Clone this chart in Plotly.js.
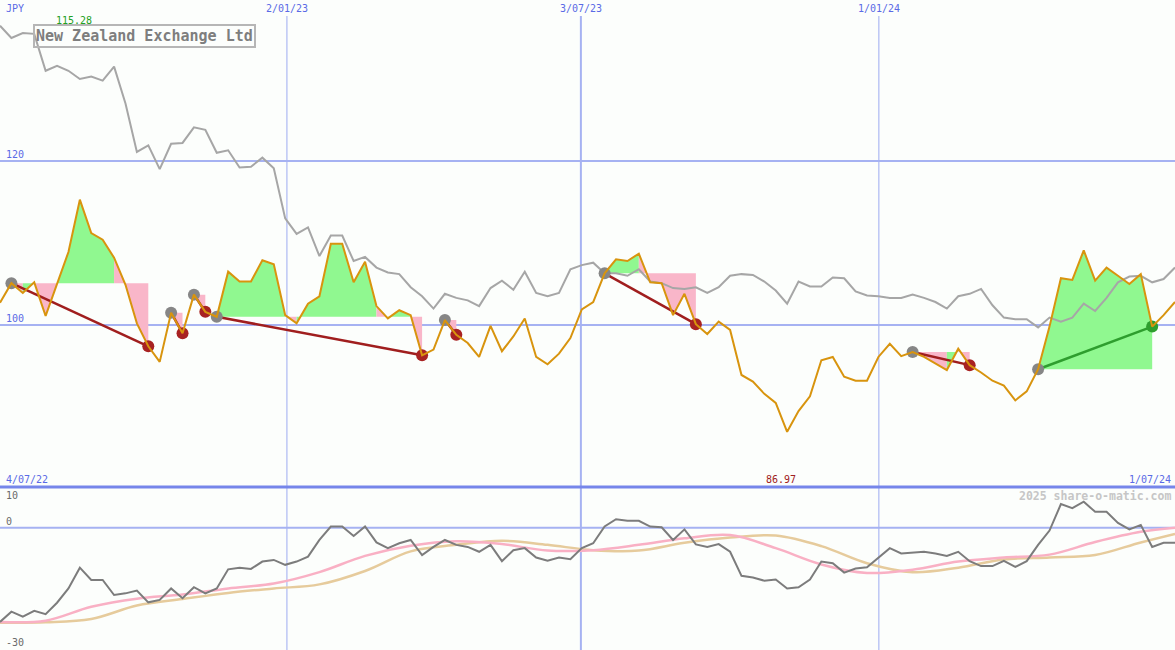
<!DOCTYPE html>
<html><head><meta charset="utf-8">
<script src="https://cdn.plot.ly/plotly-3.0.1.min.js"></script>
<style>html,body{margin:0;padding:0;background:#fcfefc;} #chart{width:1175px;height:650px;}</style>
</head><body><div id="chart"></div>
<script>
// ---- data (weekly, index 0 = 4/07/22) ----
const title = 'New Zealand Exchange Ltd';
const currency = 'JPY';
const price = [102.7,105.1,103.9,105.2,101.1,105.0,108.9,115.28,111.2,110.4,
108.2,104.9,100.2,97.4,95.5,101.5,99.0,103.7,101.6,101.0,
106.5,105.3,105.3,107.9,107.4,101.2,100.2,102.6,103.5,109.9,
109.9,105.2,107.7,102.3,100.8,101.8,101.2,96.3,97.0,100.6,
98.8,97.8,96.1,99.9,96.8,98.6,100.8,96.1,95.2,96.5,
98.4,101.9,102.8,106.3,108.0,107.8,108.7,105.2,105.1,101.2,
103.8,100.1,98.9,100.4,99.4,93.9,93.1,91.6,90.5,86.97,
89.5,91.3,95.7,96.1,93.7,93.2,93.2,96.1,97.7,96.2,
96.7,96.1,95.3,94.5,97.1,95.1,94.2,93.2,92.6,90.8,
91.9,94.6,99.8,105.7,105.5,109.1,105.4,107.0,106.0,105.0,
106.2,99.8,101.2,102.8];
const relative = [136.5,135.0,135.6,135.5,131.0,131.6,131.0,130.0,130.3,129.8,
131.5,127.0,121.1,121.9,119.0,122.1,122.2,124.1,123.8,121.0,
121.3,119.2,119.3,120.4,119.1,113.0,111.1,111.9,108.4,110.9,
110.9,107.8,108.3,107.0,106.4,106.2,104.6,103.5,102.0,103.8,
103.3,103.0,102.3,104.5,105.4,104.3,106.5,103.9,103.5,103.9,
106.8,107.3,107.6,106.3,106.3,106.0,106.8,105.3,105.1,104.5,
104.4,104.6,103.9,104.6,106.0,106.2,106.1,105.3,104.2,102.6,
105.3,104.7,104.7,105.8,105.7,104.1,103.6,103.5,103.3,103.3,
103.7,103.3,102.8,102.0,103.5,103.8,104.4,102.4,100.9,100.7,
100.7,99.7,100.9,100.4,100.9,102.6,101.7,103.3,105.2,105.9,
106.0,105.2,105.6,107.0];
const osc = [-23.1,-20.6,-21.8,-20.4,-21.2,-18.4,-14.9,-9.8,-12.8,-12.8,
-16.5,-16.1,-15.4,-18.3,-17.7,-14.9,-17.3,-14.6,-16.1,-14.9,
-10.2,-9.8,-10.1,-8.3,-7.9,-9.1,-8.3,-7.1,-3.0,0.3,
0.3,-2.0,0.3,-3.6,-5.0,-3.8,-3.0,-6.7,-4.7,-3.0,
-4.2,-4.7,-5.9,-4.2,-8.2,-5.5,-5.0,-7.3,-8.1,-7.3,
-7.7,-5.0,-3.8,0.3,2.1,1.7,1.7,0.3,0.1,-3.0,
-0.4,-4.1,-4.7,-4.0,-5.9,-11.8,-12.2,-13.0,-12.7,-14.9,
-14.6,-12.7,-8.3,-8.7,-11.0,-10.0,-9.7,-7.3,-5.0,-6.3,
-6.1,-5.9,-6.3,-6.9,-5.9,-8.2,-9.4,-9.4,-8.1,-9.6,
-8.2,-4.2,-0.7,5.8,4.8,6.4,3.9,3.9,1.2,-0.4,
0.7,-4.7,-3.7,-3.7];
const avgWeeks = [0,4,8,12,16,20,24,28,32,36,40,44,48,52,56,60,64,68,72,76,80,84,88,92,96,100,103];
const oscFast = [-23.1,-22.8,-19.4,-17.4,-16.4,-14.9,-13.7,-10.9,-6.9,-4.4,-3.3,-4.0,-5.6,-5.5,-4.2,-2.6,-1.8,-5.0,-9.0,-11.1,-10.3,-8.3,-7.3,-6.6,-3.5,-1.0,0.0];
const oscSlow = [-23.3,-23.2,-22.4,-19.1,-17.5,-16.0,-14.9,-13.9,-10.6,-5.8,-4.2,-3.2,-4.2,-5.5,-5.6,-3.7,-2.4,-1.9,-4.5,-8.7,-10.9,-9.8,-7.8,-7.3,-6.7,-3.6,-1.5];
const entries = [1,15,17,19,39,53,80,91];
const exits   = [13,16,18,37,40,61,85,101];
const dateTickPos  = [25.15,50.92,77.04];
const dateTickText = ['2/01/23','3/07/23','1/01/24'];
const startLabel = '4/07/22', endLabel = '1/07/24';
const mainTicks = [120,100];
const oscLabels = ['10','0','-30'];
const credit = '2025 share-o-matic.com';

// ---- styles ----
const W = 1175, H = 650;
const splitY = 163/H;           // lower panel height fraction
const MONO = 'DejaVu Sans Mono, monospace';
const BLUE = '#5a6ae6', GRID = '#a6b2f2';
const GREEN_FILL = '#90f890', PINK_FILL = '#f9b6c9';
const weeks = price.map((_, i) => i);
const px = v => v / W, py = v => 1 - v / H;

const traces = [];
// fills between price and entry level for each trade
entries.forEach((e, t) => {
  const ex = exits[t], base = price[e];
  let k = e;
  while (k < ex) {
    const up = price[k + 1] >= base;
    let j = k;
    while (j < ex && (price[j + 1] >= base) === up) j++;
    const xs = [k], ys = [base];
    for (let m = k; m <= j; m++) { xs.push(m); ys.push(price[m]); }
    xs.push(j); ys.push(base);
    traces.push({x: xs, y: ys, xaxis: 'x', yaxis: 'y', type: 'scatter', mode: 'lines',
      fill: 'toself', fillcolor: up ? GREEN_FILL : PINK_FILL, line: {width: 0},
      hoverinfo: 'skip', showlegend: false});
    k = j;
  }
});
// relative (gray) line
traces.push({x: weeks, y: relative, xaxis: 'x', yaxis: 'y', type: 'scatter', mode: 'lines',
  line: {color: '#a6a6a6', width: 2}, hoverinfo: 'skip'});
// trade lines
entries.forEach((e, t) => {
  const ex = exits[t], win = price[ex] > price[e];
  traces.push({x: [e, ex], y: [price[e], price[ex]], xaxis: 'x', yaxis: 'y', type: 'scatter',
    mode: 'lines', line: {color: win ? '#2e9e2e' : '#a01e1e', width: 2.5}, hoverinfo: 'skip'});
});
// markers
traces.push({x: entries, y: entries.map(i => price[i]), xaxis: 'x', yaxis: 'y', type: 'scatter',
  mode: 'markers', marker: {size: 12, color: '#868686'}, hoverinfo: 'skip'});
traces.push({x: exits, y: exits.map(i => price[i]), xaxis: 'x', yaxis: 'y', type: 'scatter',
  mode: 'markers', marker: {size: 12, color: exits.map((x, t) => price[x] > price[entries[t]] ? '#2e9e2e' : '#a82222')},
  hoverinfo: 'skip'});
// price line
traces.push({x: weeks, y: price, xaxis: 'x', yaxis: 'y', type: 'scatter', mode: 'lines',
  line: {color: '#d8940e', width: 2}, hoverinfo: 'skip'});
// lower panel
traces.push({x: avgWeeks, y: oscSlow, xaxis: 'x2', yaxis: 'y2', type: 'scatter', mode: 'lines',
  line: {color: '#e6cb9c', width: 2.5, shape: 'spline'}, hoverinfo: 'skip'});
traces.push({x: avgWeeks, y: oscFast, xaxis: 'x2', yaxis: 'y2', type: 'scatter', mode: 'lines',
  line: {color: '#f9b0c4', width: 2.5, shape: 'spline'}, hoverinfo: 'skip'});
traces.push({x: weeks, y: osc, xaxis: 'x2', yaxis: 'y2', type: 'scatter', mode: 'lines',
  line: {color: '#7c7c7c', width: 2}, hoverinfo: 'skip'});

const shapes = [];
mainTicks.forEach(v => shapes.push({type: 'line', layer: 'below', xref: 'paper', x0: 0, x1: 1,
  yref: 'y', y0: v, y1: v, line: {color: GRID, width: 2}}));
shapes.push({type: 'line', layer: 'below', xref: 'paper', x0: 0, x1: 1, yref: 'y2', y0: 0, y1: 0,
  line: {color: GRID, width: 2}});
dateTickPos.forEach((p, i) => shapes.push({type: 'line', layer: 'below', xref: 'x', x0: p, x1: p,
  yref: 'paper', y0: 0, y1: py(16), line: {color: GRID, width: i === 1 ? 2 : 1.1}}));
shapes.push({type: 'line', layer: 'above', xref: 'paper', x0: 0, x1: 1, yref: 'paper', y0: splitY, y1: splitY,
  line: {color: '#7686ea', width: 3}});

const ann = [];
const A = (o) => ann.push(Object.assign({showarrow: false, font: {family: MONO, size: 10, color: BLUE}}, o));
A({text: currency, xref: 'paper', x: px(4), xanchor: 'left', yref: 'paper', y: py(8), yanchor: 'middle'});
const iMax = price.indexOf(Math.max(...price)), iMin = price.indexOf(Math.min(...price));
A({text: Math.max(...price).toFixed(2), xref: 'x', x: iMax, xshift: -6, xanchor: 'center', yref: 'paper', y: py(21), yanchor: 'middle',
  font: {family: MONO, size: 10, color: '#22a022'}});
A({text: Math.min(...price).toFixed(2), xref: 'x', x: iMin, xshift: -6, xanchor: 'center', yref: 'paper', y: py(479), yanchor: 'middle',
  font: {family: MONO, size: 10, color: '#a02020'}});
mainTicks.forEach(v => A({text: String(v), xref: 'paper', x: px(4), xanchor: 'left', yref: 'y', y: v, yanchor: 'bottom', yshift: -1}));
dateTickPos.forEach((p, i) => A({text: dateTickText[i], xref: 'x', x: p, xanchor: 'center', yref: 'paper', y: py(8), yanchor: 'middle'}));
A({text: startLabel, xref: 'paper', x: px(4), xanchor: 'left', yref: 'paper', y: py(479), yanchor: 'middle'});
A({text: endLabel, xref: 'paper', x: px(1173), xanchor: 'right', yref: 'paper', y: py(479), yanchor: 'middle'});
A({text: '<b>' + credit + '</b>', xref: 'paper', x: px(1173), xanchor: 'right', yref: 'paper', y: py(496), yanchor: 'middle',
  font: {family: MONO, size: 11.5, color: '#c6c6c6'}});
[495, 521, 642].forEach((y, i) => A({text: oscLabels[i], xref: 'paper', x: px(4), xanchor: 'left', yref: 'paper', y: py(y), yanchor: 'middle',
  font: {family: MONO, size: 10, color: '#6a6a6a'}}));
A({text: '<b>' + title + '</b>', xref: 'paper', x: px(33), xanchor: 'left', yref: 'paper', y: py(36.5), yanchor: 'middle',
  bordercolor: '#b6b6b6', borderwidth: 2, borderpad: 1, font: {family: MONO, size: 15, color: '#7e7e7e'}});

const layout = {
  width: W, height: H, margin: {l: 0, r: 0, t: 0, b: 0},
  paper_bgcolor: '#fcfefc', plot_bgcolor: '#fcfefc', showlegend: false,
  xaxis: {range: [0, 103], domain: [0, 1], anchor: 'y', visible: false, fixedrange: true},
  yaxis: {range: [80.24, 139.63], domain: [splitY, 1], anchor: 'x', visible: false, fixedrange: true},
  xaxis2: {range: [0, 103], domain: [0, 1], anchor: 'y2', visible: false, fixedrange: true},
  yaxis2: {range: [-30, 10], domain: [0, splitY], anchor: 'x2', visible: false, fixedrange: true},
  shapes: shapes, annotations: ann
};
Plotly.newPlot('chart', traces, layout, {displayModeBar: false, staticPlot: true});
</script></body></html>
